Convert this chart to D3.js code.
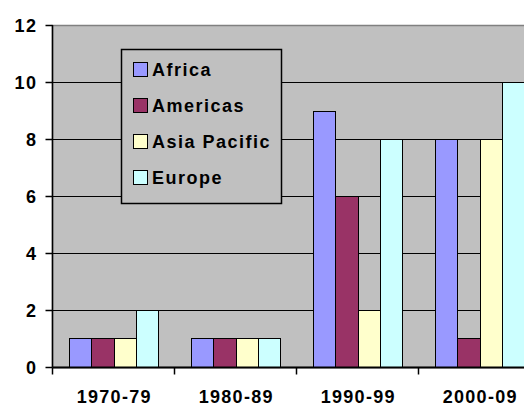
<!DOCTYPE html>
<html><head><meta charset="utf-8">
<script src="https://cdn.jsdelivr.net/npm/d3@7"></script>
<style>
html,body{margin:0;padding:0;background:#fff;}
svg{display:block;}
text{font-family:"Liberation Sans",Arial,sans-serif;font-weight:bold;fill:#000;}
</style></head>
<body><div id="chart"></div>
<script>
const categories = ["1970-79","1980-89","1990-99","2000-09"];
const seriesNames = ["Africa","Americas","Asia Pacific","Europe"];
const africa = [1,1,9,8];
const americas = [1,1,6,1];
const asiaPacific = [1,1,2,8];
const europe = [2,1,8,10];
const yTicks = [0,2,4,6,8,10,12];
const colors = ["#9999FF","#993366","#FFFFCC","#CCFFFF"];

const seriesValues = [africa, americas, asiaPacific, europe];
const W = 524, H = 406;
const plotLeft = 52.5, plotTop = 25, plotBottom = 367, plotW = 488;

const svg = d3.select("#chart").append("svg").attr("width", W).attr("height", H);
svg.append("rect").attr("width", W).attr("height", H).attr("fill", "#fff");

const x = d3.scaleBand().domain(categories).range([plotLeft, plotLeft + plotW]).padding(0);
const xi = d3.scaleBand().domain(seriesNames).range([0, x.bandwidth()]).paddingInner(0).paddingOuter(0.75);
const y = d3.scaleLinear().domain([0, 12]).range([plotBottom, plotTop]);

// plot background
svg.append("rect").attr("x", plotLeft).attr("y", plotTop + 0.5).attr("width", plotW).attr("height", plotBottom - plotTop)
  .attr("fill", "#C0C0C0").attr("stroke", "#808080").attr("stroke-width", 1.5);

// gridlines
svg.append("g").selectAll("line").data(yTicks.filter(d => d > 0 && d < 12)).join("line")
  .attr("x1", plotLeft).attr("x2", plotLeft + plotW)
  .attr("y1", d => Math.round(y(d)) + 0.5).attr("y2", d => Math.round(y(d)) + 0.5)
  .attr("stroke", "#000").attr("stroke-width", 1);

// bars
const g = svg.append("g");
categories.forEach((c, ci) => {
  seriesNames.forEach((s, si) => {
    const v = seriesValues[si][ci];
    const x0 = Math.round(x(c) + xi(s)) + 0.5;
    const x1 = Math.round(x(c) + xi(s) + xi.bandwidth()) + 0.5;
    const y0 = Math.round(y(v)) + 0.5;
    g.append("rect").attr("x", x0).attr("y", y0).attr("width", x1 - x0).attr("height", Math.round(y(0)) + 0.5 - y0)
      .attr("fill", colors[si]).attr("stroke", "#000").attr("stroke-width", 1);
  });
});

// y axis
const yAxis = d3.axisLeft(y).tickValues(yTicks).tickSize(7).tickPadding(8).tickFormat(d3.format("d"));
const ya = svg.append("g").attr("transform", `translate(${plotLeft},0)`).call(yAxis);
ya.select(".domain").attr("stroke", "#000").attr("stroke-width", 1.5).attr("d", `M0,${y(12)}V${y(0)}`);
ya.selectAll(".tick line").attr("stroke", "#000").attr("stroke-width", 1.5);
ya.selectAll(".tick").attr("transform", d => `translate(0,${Math.round(y(d)) + 0.5})`);
ya.selectAll("text").style("font-size", "18px").style("letter-spacing", "1.5px").attr("dy", "0.36em");

// x axis
const xAxis = d3.axisBottom(x).tickSize(0).tickPadding(0);
const xa = svg.append("g").attr("transform", `translate(0,${plotBottom + 0.5})`).call(xAxis);
xa.select(".domain").attr("stroke", "#000").attr("stroke-width", 2).attr("d", `M${plotLeft},0H${plotLeft + plotW}`);
xa.selectAll("text").attr("y", 35.5).attr("dy", 0).attr("dx", "0.75px")
  .style("font-size", "18px").style("letter-spacing", "1.3px");
// boundary ticks
xa.append("g").selectAll("line").data(categories.map(c => x(c)).concat([plotLeft + plotW])).join("line")
  .attr("x1", d => d).attr("x2", d => d).attr("y1", 0).attr("y2", 7).attr("stroke", "#000").attr("stroke-width", 1.5);

// legend
const lg = svg.append("g");
lg.append("rect").attr("x", 121.5).attr("y", 49.5).attr("width", 160).attr("height", 154)
  .attr("fill", "#C0C0C0").attr("stroke", "#000").attr("stroke-width", 1.5);
seriesNames.forEach((s, i) => {
  const cy = 70 + i * 36;
  lg.append("rect").attr("x", 133.5).attr("y", cy - 7.5).attr("width", 14).attr("height", 14)
    .attr("fill", colors[i]).attr("stroke", "#000");
  lg.append("text").attr("x", 152).attr("y", cy).attr("dy", "0.36em")
    .style("font-size", "18px").style("letter-spacing", "1.5px").text(s);
});
</script></body></html>
